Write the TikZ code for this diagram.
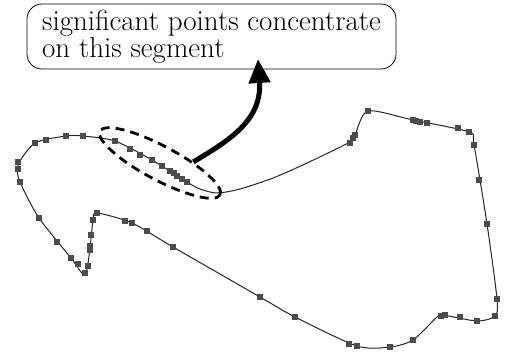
\documentclass[tikz,border=0pt]{standalone}
\usepackage{fontspec}
\usepackage{tikz}
\usetikzlibrary{arrows.meta,shapes.geometric}
\tikzset{
  >={Triangle[length=24pt,width=21pt]},
  note/.style={
    draw, rectangle, rounded corners=15pt, align=left, inner sep=0pt,
    line width=0.8pt, minimum width=369pt, minimum height=65pt,
    font=\fontsize{29}{27}\selectfont
  },
  hint/.style={
    draw, ellipse, dash pattern=on 9pt off 6pt, line width=2.8pt,
    minimum width=136pt, minimum height=34pt, inner sep=0pt
  },
  pointer/.style={->, line width=5pt},
  contour/.style={line width=1pt, black!85},
  sample/.style={fill=black!70},
}
\begin{document}
\begin{tikzpicture}[x=1pt,y=-1pt]
  \useasboundingbox (0,0) rectangle (505,360);

  % the traced outline
  \draw[contour] plot[smooth cycle, tension=0.45] coordinates {
    (187,182) (200,189) (217,193) (240,189) (273,178) (307,163)
    (350,142) (355,135) (368,111) (413,120) (469,132) (474,145)
    (487,224) (497,299) (495,316) (477,321) (443,315) (437,317)
    (413,340) (390,347) (357,346) (295,317) (260,297) (173,247)
    (132,223) (97,213) (93,220) (90,248) (85,275) (71,258)
    (39,218) (20,182) (18,165) (35,143) (66,136) (83,136)
    (115,141) (152,160)};

  % significant points
  \foreach \x/\y in {18/162, 18/169, 20/182, 35/143, 46/140, 66/136, 83/136,
      115/141, 130/149, 140/155, 152/160, 162/166, 170/171, 174/173,
      177/176, 182/179, 187/182, 39/218, 57/242, 71/258, 78/264, 85/273,
      88/266, 90/250, 90/246, 91/235, 93/220, 97/213, 125/221, 132/223,
      147/231, 173/247, 260/297, 295/317, 349/344, 357/346, 390/347,
      413/340, 441/316, 445/315, 460/317, 477/321, 495/316, 497/299,
      487/224, 479/180, 474/145, 469/132, 458/128, 427/123, 420/122,
      416/121, 413/120, 368/111, 355/135, 353/138, 350/143}
    \fill[sample] (\x-3,\y-3) rectangle (\x+3,\y+3);

  \node[note] (note) at (211.5,36.5) {significant points concentrate\\on this segment};
  \node[hint, rotate=-28] (seg) at (160,163) {};
  \coordinate (tip) at (258,59);
  \draw[pointer] (seg.30) .. controls (230,140) and (262,120) .. (tip);
\end{tikzpicture}
\end{document}
